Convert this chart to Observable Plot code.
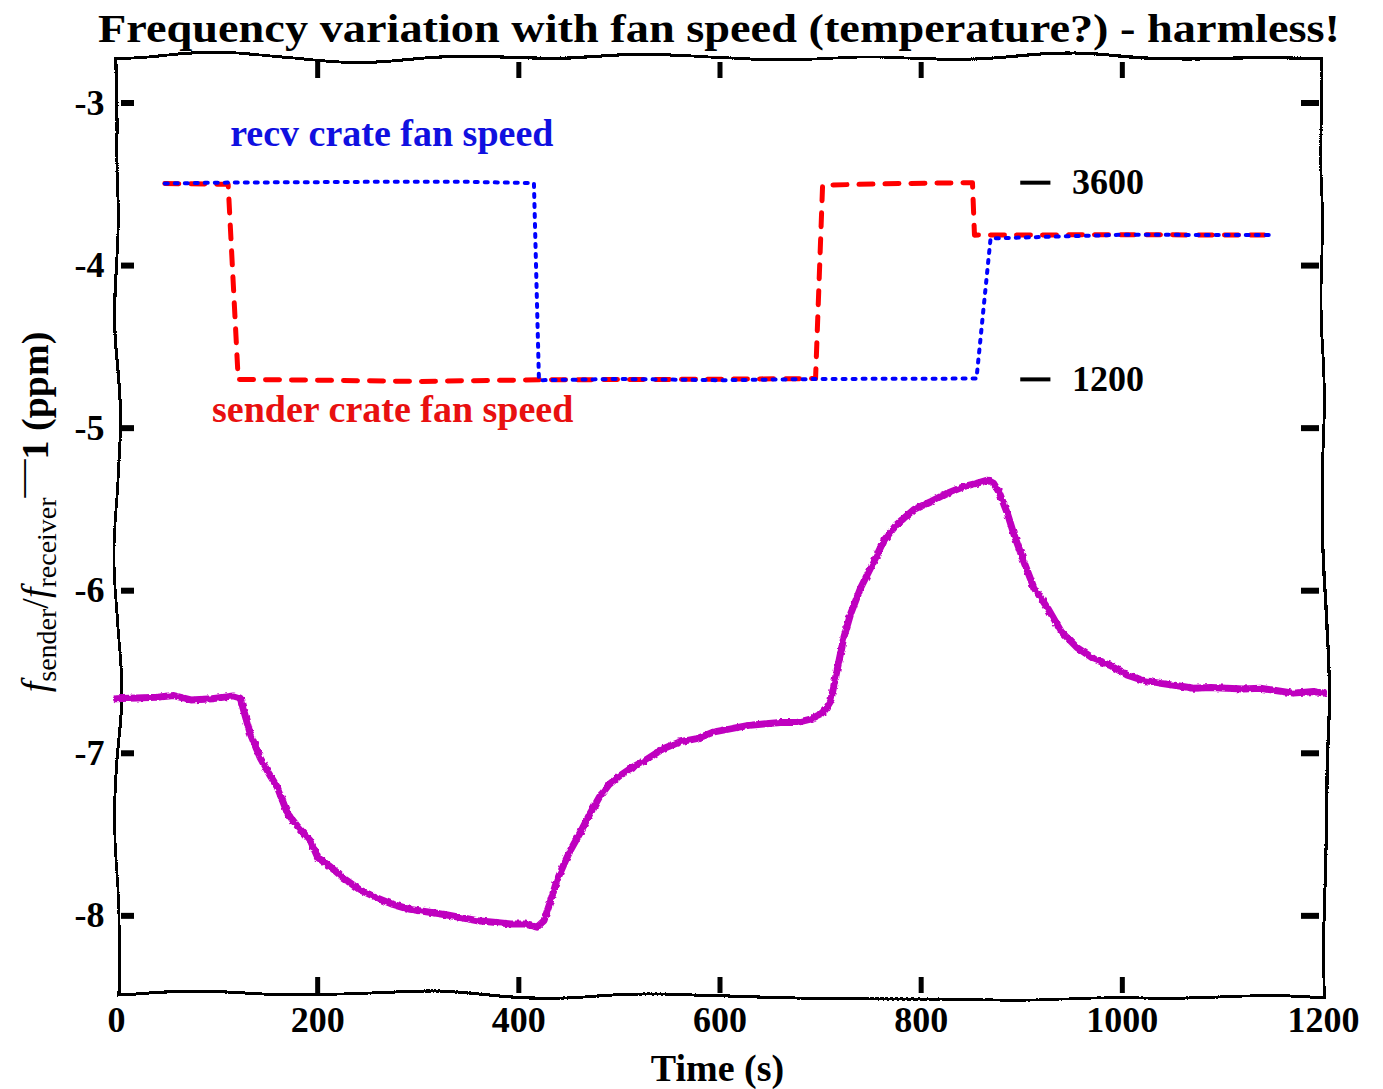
<!DOCTYPE html>
<html><head><meta charset="utf-8">
<script src="https://cdn.jsdelivr.net/npm/d3@7"></script>
<script src="https://cdn.jsdelivr.net/npm/@observablehq/plot@0.6"></script>
<style>
body{margin:0;background:#fff;}
svg{display:block}
</style></head><body>
<svg id="title" width="1383" height="52"><text x="719" y="42" text-anchor="middle" font-family="Liberation Serif" font-weight="bold" font-size="40" textLength="1242" lengthAdjust="spacingAndGlyphs">Frequency variation with fan speed (temperature?) - harmless!</text></svg>
<div id="chart"></div>
<script>
// ---- data ----
const timeS = [0,20,40,57,74,95,116,123,133,143,152,160,170,180,193,200,213,226,242,259,275,292,308,325,342,359,375,392,405,418,425,431,438,445,451,460,470,480,490,500,512,524,544,560,577,593,610,627,643,660,677,690,700,705,710,717,723,730,740,753,763,776,793,810,826,842,855,866,872,878,886,892,902,912,926,939,955,972,988,1005,1020,1038,1055,1071,1088,1104,1120,1137,1154,1170,1190,1200];
const ratioPpm = [-6.665,-6.66,-6.655,-6.645,-6.672,-6.665,-6.647,-6.66,-6.88,-7.03,-7.13,-7.21,-7.37,-7.45,-7.54,-7.64,-7.70,-7.77,-7.84,-7.89,-7.93,-7.96,-7.975,-7.99,-8.01,-8.03,-8.04,-8.05,-8.05,-8.07,-8.03,-7.92,-7.78,-7.68,-7.60,-7.50,-7.38,-7.27,-7.19,-7.14,-7.09,-7.05,-6.97,-6.93,-6.91,-6.87,-6.85,-6.83,-6.82,-6.81,-6.81,-6.79,-6.76,-6.73,-6.68,-6.47,-6.29,-6.14,-5.98,-5.82,-5.69,-5.59,-5.50,-5.45,-5.40,-5.36,-5.34,-5.32,-5.34,-5.40,-5.53,-5.65,-5.82,-5.98,-6.11,-6.25,-6.35,-6.42,-6.46,-6.52,-6.55,-6.57,-6.585,-6.60,-6.595,-6.60,-6.605,-6.60,-6.615,-6.63,-6.62,-6.63];

const senderT   = [48,111,121,200,300,420,560,695,702,780,851,853,1000,1150];
const senderRpm = [3590,3580,1200,1190,1175,1195,1200,1210,3570,3590,3600,2960,2965,2960];
const recvT     = [48,100,250,350,415,420,500,600,700,855,869,1000,1150];
const recvRpm   = [3590,3600,3610,3610,3595,1190,1205,1190,1205,1210,2920,2965,2960];

const xTicks = [0,200,400,600,800,1000,1200];
const yTicks = [-3,-4,-5,-6,-7,-8];
const fanTicks = [3600,1200];
const seriesLabels = ["recv crate fan speed","sender crate fan speed"];

// fan speed (rpm) drawn on the ppm axis: 1200 rpm -> -4.70, 3600 rpm -> -3.49
const rpmToY = r => -4.70 + (r - 1200) * 1.21 / 2400;

const freq = timeS.map((t,i) => ({t, v: ratioPpm[i]}));
const sender = senderT.map((t,i) => ({t, y: rpmToY(senderRpm[i])}));
const recv = recvT.map((t,i) => ({t, y: rpmToY(recvRpm[i])}));

const W = 1383, H = 1037, mT = 5, mB = 94, mL = 116, mR = 60;
const iW = W - mL - mR, iH = H - mT - mB;
const font = "Liberation Serif";

const plot = Plot.plot({
  width: W, height: H,
  marginTop: mT, marginBottom: mB, marginLeft: mL, marginRight: mR,
  style: {background: "#fff", overflow: "visible"},
  x: {domain: [0, 1200], axis: null},
  y: {domain: [-8.49, -2.72], axis: null},
  marks: [
    Plot.frame({stroke: "black", strokeWidth: 3}),
    // inward ticks
    Plot.ruleX(xTicks.slice(1, -1), {x: d => d, insetTop: iH - 18, insetBottom: 2, stroke: "black", strokeWidth: 5}),
    Plot.ruleX(xTicks.slice(1, -1), {x: d => d, insetBottom: iH - 21, insetTop: 5, stroke: "black", strokeWidth: 5}),
    Plot.ruleY(yTicks, {y: d => d, insetLeft: 5, insetRight: iW - 18, stroke: "black", strokeWidth: 6}),
    Plot.ruleY(yTicks, {y: d => d, insetLeft: iW - 22, insetRight: 4, stroke: "black", strokeWidth: 6}),
    // tick labels
    Plot.text(xTicks, {x: d => d, frameAnchor: "bottom", dy: 36, text: d => String(d), fontSize: 36, fontWeight: "bold", fontFamily: font, fill: "black"}),
    Plot.text(yTicks, {y: d => d, frameAnchor: "left", dx: -12, textAnchor: "end", text: d => String(d), fontSize: 36, fontWeight: "bold", fontFamily: font, fill: "black"}),
    // data
    Plot.line(freq, {x: "t", y: "v", stroke: "#bf00bf", strokeWidth: 7}),
    Plot.line(sender, {x: "t", y: "y", stroke: "#ff0000", strokeWidth: 5, strokeDasharray: "14,12"}),
    Plot.line(recv, {x: "t", y: "y", stroke: "#0000ff", strokeWidth: 4, strokeDasharray: "3,7"}),
    // fan speed scale
    Plot.ruleY(fanTicks, {y: rpmToY, x1: 899, x2: 929, stroke: "black", strokeWidth: 4}),
    Plot.text(fanTicks, {y: rpmToY, x: 950, text: d => String(d), textAnchor: "start", fontSize: 36, fontWeight: "bold", fontFamily: font, fill: "black"}),
    // series labels
    Plot.text([seriesLabels[0]], {x: 113, y: -3.19, text: d => d, textAnchor: "start", fontSize: 38, fontWeight: "bold", fontFamily: font, fill: "#1010e0"}),
    Plot.text([seriesLabels[1]], {x: 95, y: -4.89, text: d => d, textAnchor: "start", fontSize: 38, fontWeight: "bold", fontFamily: font, fill: "#e81010"})
  ]
});
document.getElementById("chart").appendChild(plot);

// ---- decorations: hand-drawn wobble, axis titles ----
const svg = d3.select(plot);
const defs = svg.insert("defs", ":first-child");
const f1 = defs.append("filter").attr("id", "wobble").attr("filterUnits", "userSpaceOnUse")
  .attr("x", mL - 30).attr("y", mT - 30).attr("width", iW + 60).attr("height", iH + 60);
f1.append("feTurbulence").attr("type", "fractalNoise").attr("baseFrequency", "0.007").attr("numOctaves", 1).attr("seed", 4).attr("result", "n");
f1.append("feDisplacementMap").attr("in", "SourceGraphic").attr("in2", "n").attr("scale", 22).attr("xChannelSelector", "R").attr("yChannelSelector", "G");
const f2 = defs.append("filter").attr("id", "jitter").attr("x", "-5%").attr("y", "-5%").attr("width", "110%").attr("height", "110%");
f2.append("feTurbulence").attr("type", "fractalNoise").attr("baseFrequency", "0.25").attr("numOctaves", 1).attr("seed", 7).attr("result", "n");
f2.append("feDisplacementMap").attr("in", "SourceGraphic").attr("in2", "n").attr("scale", 4).attr("xChannelSelector", "R").attr("yChannelSelector", "G");

const frameEl = svg.select('[aria-label="frame"]');
frameEl.attr("filter", "url(#wobble)");
svg.selectAll('[stroke="#bf00bf"]').attr("filter", "url(#jitter)");

// x axis title
svg.append("text").attr("x", mL + iW / 2 - 2).attr("y", 1081 - 52)
  .attr("text-anchor", "middle").attr("font-family", font).attr("font-weight", "bold").attr("font-size", 38)
  .text("Time (s)");

// y axis title
const yl = svg.append("text").attr("transform", "translate(48," + (512 - 52) + ") rotate(-90)")
  .attr("text-anchor", "middle").attr("font-family", font).attr("font-size", 38).attr("fill", "black");
yl.append("tspan").attr("font-style", "italic").text("f");
yl.append("tspan").attr("font-size", 28).attr("dy", 8).text("sender");
yl.append("tspan").attr("dy", -8).text("/");
yl.append("tspan").attr("font-style", "italic").text("f");
yl.append("tspan").attr("font-size", 28).attr("dy", 8).text("receiver");
yl.append("tspan").attr("dy", -22).text("\u2014");
yl.append("tspan").attr("dy", 14).attr("font-weight", "bold").text("1 (ppm)");
</script>
</body></html>
